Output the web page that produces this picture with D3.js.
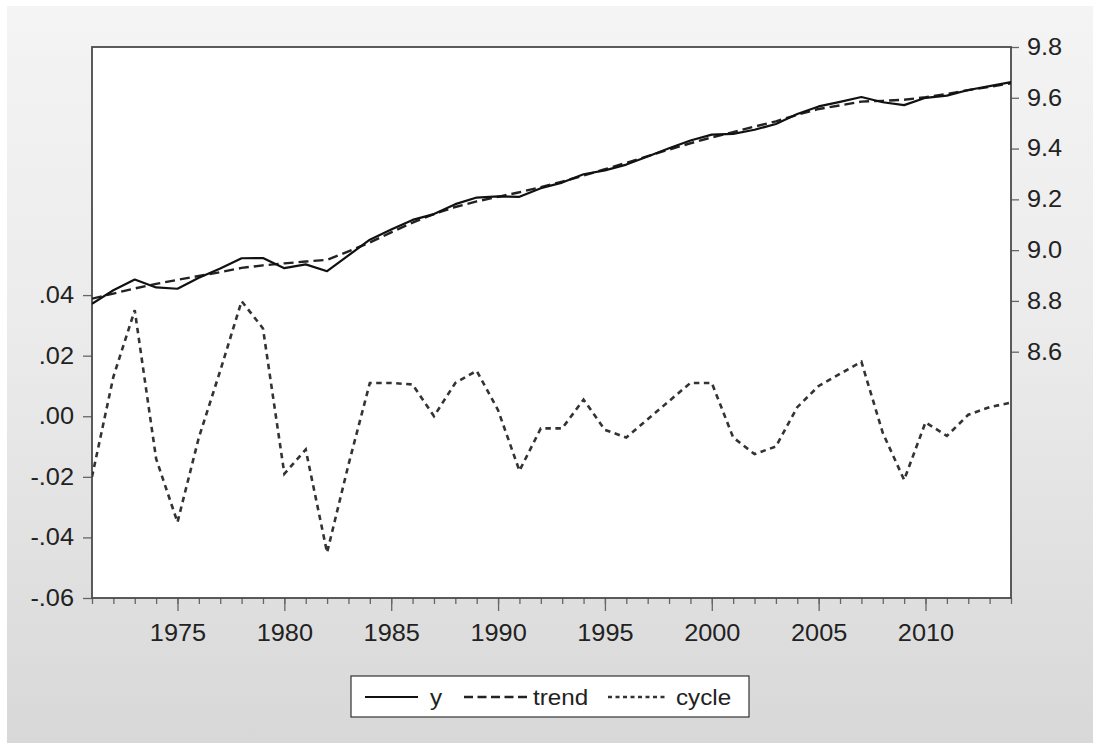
<!DOCTYPE html>
<html>
<head>
<meta charset="utf-8">
<script src="https://cdn.jsdelivr.net/npm/d3@7"></script>
<style>
  html, body { margin: 0; padding: 0; background: #ffffff; }
  svg { display: block; }
  text { font-family: "Liberation Sans", Arial, sans-serif; fill: #222; }
</style>
</head>
<body>
<svg id="chart" width="1093" height="743"></svg>
<script>
// Annual observations, 1971-2014
const years = d3.range(1971, 2015);

// log level series (right axis)
const ySeries = [
  8.789, 8.842, 8.884, 8.853, 8.848, 8.891, 8.928, 8.968, 8.969, 8.929,
  8.944, 8.917, 8.979, 9.041, 9.081, 9.119, 9.142, 9.181, 9.207, 9.212,
  9.210, 9.244, 9.266, 9.299, 9.314, 9.337, 9.369, 9.401, 9.432, 9.455,
  9.458, 9.474, 9.497, 9.536, 9.566, 9.584, 9.603, 9.5825, 9.571, 9.600,
  9.6085, 9.6305, 9.646, 9.6615
];

// Hodrick-Prescott trend (right axis)
const trendSeries = [
  8.809, 8.829, 8.849, 8.867, 8.883, 8.898, 8.913, 8.930, 8.940, 8.948,
  8.955, 8.962, 8.995, 9.030, 9.070, 9.1085, 9.142, 9.170, 9.192, 9.210,
  9.228, 9.248, 9.270, 9.2935, 9.3185, 9.344, 9.370, 9.396, 9.421, 9.444,
  9.465, 9.4865, 9.507, 9.533, 9.556, 9.570, 9.585, 9.588, 9.592, 9.602,
  9.615, 9.630, 9.643, 9.657
];

// cyclical component (left axis)
const cycleSeries = [
  -0.020, 0.013, 0.035, -0.014, -0.035, -0.007, 0.015, 0.038, 0.029, -0.019,
  -0.011, -0.045, -0.016, 0.011, 0.011, 0.0105, 0.000, 0.011, 0.015, 0.002,
  -0.018, -0.004, -0.004, 0.0055, -0.0045, -0.007, -0.001, 0.005, 0.011, 0.011,
  -0.007, -0.0125, -0.010, 0.003, 0.010, 0.014, 0.018, -0.0055, -0.021, -0.002,
  -0.0065, 0.0005, 0.003, 0.0045
];

const leftTicks = [-0.06, -0.04, -0.02, 0.00, 0.02, 0.04];
const rightTicks = [8.6, 8.8, 9.0, 9.2, 9.4, 9.6, 9.8];
const yearLabels = [1975, 1980, 1985, 1990, 1995, 2000, 2005, 2010];
const legendItems = ["y", "trend", "cycle"];

const svg = d3.select("#chart");
const W = 1093, H = 743;
const plot = { left: 92, right: 1011, top: 47, bottom: 598 };

// panel background with a soft vertical gradient
const defs = svg.append("defs");
const grad = defs.append("linearGradient")
  .attr("id", "panelGrad").attr("x1", 0).attr("y1", 0).attr("x2", 0).attr("y2", 1);
grad.append("stop").attr("offset", "0%").attr("stop-color", "#f4f4f4");
grad.append("stop").attr("offset", "45%").attr("stop-color", "#ebebeb");
grad.append("stop").attr("offset", "100%").attr("stop-color", "#d8d8d8");

svg.append("rect").attr("x", 0).attr("y", 0).attr("width", W).attr("height", H).attr("fill", "#ffffff");
svg.append("rect").attr("x", 7).attr("y", 6).attr("width", W - 7).attr("height", H - 6)
  .attr("fill", "url(#panelGrad)");

// scales
const x = d3.scaleLinear().domain([1971, 2014]).range([plot.left, plot.right]);
const yLeft = d3.scaleLinear().domain([-0.06, 0.1219]).range([plot.bottom, plot.top]);
const yRight = d3.scaleLinear().domain([7.630, 9.8]).range([plot.bottom, plot.top]);

// plotting area
svg.append("rect")
  .attr("x", plot.left).attr("y", plot.top)
  .attr("width", plot.right - plot.left).attr("height", plot.bottom - plot.top)
  .attr("fill", "#ffffff");

// ".04", ".00", "-.02" style labels
const fmtLeft = v => {
  const a = Math.abs(v) < 1e-9 ? 0 : v;
  const s = Math.abs(a).toFixed(2).replace(/^0\./, ".");
  return (a < 0 ? "-" : "") + s;
};

// left axis (cycle)
const axLeft = svg.append("g")
  .attr("transform", `translate(${plot.left},0)`)
  .call(d3.axisLeft(yLeft).tickValues(leftTicks).tickFormat(fmtLeft).tickSize(9).tickPadding(9));

// right axis (levels)
const axRight = svg.append("g")
  .attr("transform", `translate(${plot.right},0)`)
  .call(d3.axisRight(yRight).tickValues(rightTicks).tickFormat(v => v.toFixed(1)).tickSize(8).tickPadding(8));

// bottom axis: minor ticks each year, longer ticks at labelled years
const axMinor = svg.append("g")
  .attr("transform", `translate(0,${plot.bottom})`)
  .call(d3.axisBottom(x).tickValues(years).tickFormat("").tickSize(6));
const axMajor = svg.append("g")
  .attr("transform", `translate(0,${plot.bottom})`)
  .call(d3.axisBottom(x).tickValues(yearLabels).tickFormat(d3.format("d")).tickSize(13).tickPadding(14));

[axLeft, axRight, axMinor, axMajor].forEach(g => {
  g.select(".domain").remove();
  g.selectAll(".tick line").attr("stroke", "#666").attr("stroke-width", 1.3);
  g.selectAll(".tick text")
    .attr("font-family", "'Liberation Sans', Arial, sans-serif")
    .attr("font-size", 23).attr("fill", "#222");
});

// frame around the plotting area
svg.append("rect")
  .attr("x", plot.left).attr("y", plot.top)
  .attr("width", plot.right - plot.left).attr("height", plot.bottom - plot.top)
  .attr("fill", "none").attr("stroke", "#4a4a4a").attr("stroke-width", 1.8);

// series lines
const lineRight = vals => d3.line()
  .x((d, i) => x(years[i]))
  .y(d => yRight(d))(vals);
const lineLeft = vals => d3.line()
  .x((d, i) => x(years[i]))
  .y(d => yLeft(d))(vals);

const styles = {
  y: { dash: null, width: 2.2, color: "#111" },
  trend: { dash: "10,5", width: 2.4, color: "#222" },
  cycle: { dash: "5.5,4.5", width: 2.6, color: "#333" }
};

const clip = defs.append("clipPath").attr("id", "plotClip");
clip.append("rect").attr("x", plot.left).attr("y", plot.top)
  .attr("width", plot.right - plot.left).attr("height", plot.bottom - plot.top);

const lines = svg.append("g").attr("clip-path", "url(#plotClip)");
lines.append("path").attr("d", lineLeft(cycleSeries))
  .attr("fill", "none").attr("stroke", styles.cycle.color)
  .attr("stroke-width", styles.cycle.width).attr("stroke-dasharray", styles.cycle.dash);
lines.append("path").attr("d", lineRight(trendSeries))
  .attr("fill", "none").attr("stroke", styles.trend.color)
  .attr("stroke-width", styles.trend.width).attr("stroke-dasharray", styles.trend.dash);
lines.append("path").attr("d", lineRight(ySeries))
  .attr("fill", "none").attr("stroke", styles.y.color)
  .attr("stroke-width", styles.y.width).attr("stroke-linejoin", "round");

// legend
const legend = svg.append("g");
legend.append("rect")
  .attr("x", 351).attr("y", 676).attr("width", 398).attr("height", 41)
  .attr("fill", "#ffffff").attr("stroke", "#333").attr("stroke-width", 1.2);

const legendLayout = [
  { key: "y", x0: 365, x1: 418, tx: 430 },
  { key: "trend", x0: 464, x1: 528, tx: 533 },
  { key: "cycle", x0: 608, x1: 666, tx: 676 }
];
legendLayout.forEach((item, i) => {
  const st = styles[item.key];
  legend.append("line")
    .attr("x1", item.x0).attr("x2", item.x1).attr("y1", 697).attr("y2", 697)
    .attr("stroke", st.color).attr("stroke-width", st.width)
    .attr("stroke-dasharray", item.key === "cycle" ? "4,3.5" : (item.key === "trend" ? "9,4.5" : null));
  legend.append("text")
    .attr("x", item.tx).attr("y", 705)
    .attr("font-size", 22)
    .text(legendItems[i]);
});

// the lettering in this layout is set slightly wide
svg.selectAll("text").each(function () {
  const len = this.getComputedTextLength();
  if (len > 0) {
    d3.select(this)
      .attr("textLength", (len * 1.1).toFixed(1))
      .attr("lengthAdjust", "spacingAndGlyphs");
  }
});
</script>
</body>
</html>
